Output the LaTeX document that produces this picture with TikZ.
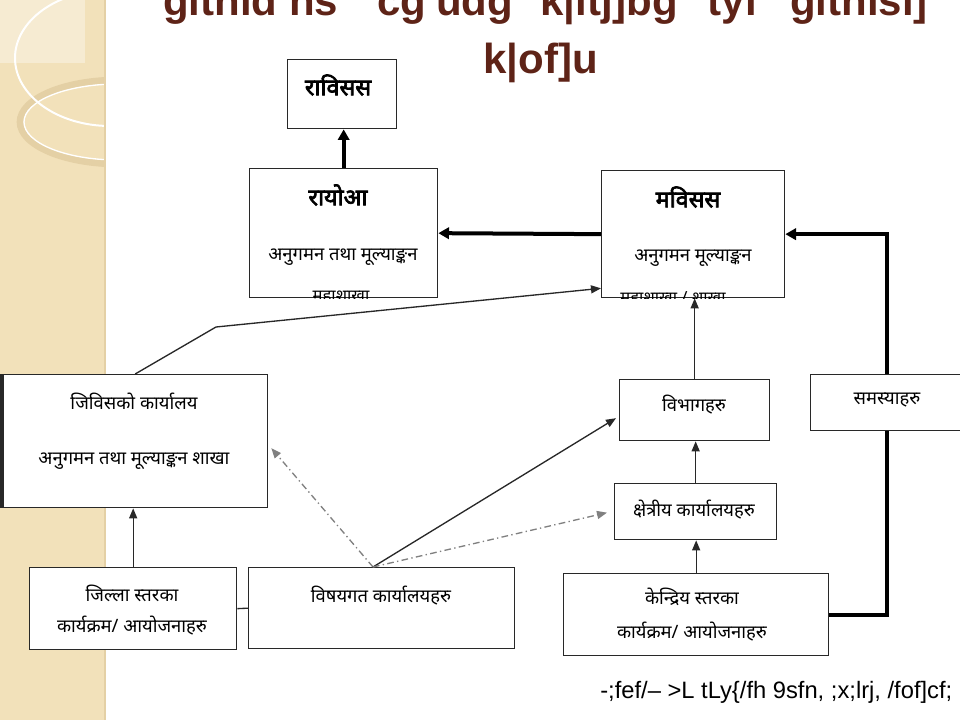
\documentclass[tikz,border=0pt]{standalone}
\usepackage{fontspec}
\newfontfamily\nep{Noto Sans}[Script=Devanagari]
\newfontfamily\nepbold{Noto Sans}[Script=Devanagari, FakeBold=3]
\newfontfamily\latin{Liberation Sans}
\usetikzlibrary{positioning,calc,arrows.meta}
\definecolor{titlebrown}{RGB}{94,35,23}
\definecolor{stripbeige}{RGB}{242,225,186}
\definecolor{stripring}{RGB}{228,208,165}
\definecolor{linegray}{RGB}{40,40,40}

\begin{document}
\begin{tikzpicture}[x=0.75pt, y=-0.75pt,
		box/.style 2 args = {
			draw=linegray, fill=white, rectangle,
			line width=1pt, inner sep=0pt, anchor=north west,
			minimum width=#1*0.75pt, minimum height=#2*0.75pt
		},
		lbl/.style = {font=\nep\fontsize{13.8}{16}\selectfont, inner sep=0pt},
		small/.style = {font=\nep\fontsize{12.5}{14}\selectfont, inner sep=0pt, anchor=north},
		hd/.style = {font=\nepbold\fontsize{17.5}{20}\selectfont, inner sep=0pt},
		ttl/.style = {font=\latin\bfseries\fontsize{31.5}{36}\selectfont, text=titlebrown, inner sep=0pt, anchor=base west},
		flow/.style = {draw=linegray, line width=1pt, -{Triangle[length=7.5pt,width=6pt]}},
		bigflow/.style = {draw=black, line width=3pt, -{Triangle[length=8pt,width=8.5pt]}},
		dashflow/.style = {flow, draw=gray, dash pattern=on 5pt off 2.5pt on 1pt off 2.5pt}
	]
	\useasboundingbox (0,0) rectangle (960,720);

	% left strip
	\begin{scope}
		\clip (0,0) rectangle (105,720);
		\fill[stripbeige] (0,0) rectangle (105,720);
		\fill[white, opacity=0.35] (0,0) rectangle (85,63);
		\draw[stripring, line width=5pt] (118,122) ellipse (98 and 42);
		\draw[white, line width=1pt] (118,122) ellipse (94 and 38);
		\draw[white, line width=1.5pt] (110,58) ellipse (95 and 68);
	\end{scope}
	\draw[stripring, line width=1.5pt] (105,0) -- (105,720);

	% title
	\node[ttl] (t1) at (163,16) {gltnid ns};
	\node[ttl] (t2) at (377,16) {cg'udg};
	\node[ttl] (t3) at (540,16) {k|ltj]bg};
	\node[ttl] (t4) at (707,16) {tyf};
	\node[ttl] (t5) at (790,16) {gltnisl]};
	\node[ttl] (t6) at (483,74) {k|of]u};

	% boxes
	\node[box={109}{69}] (rvss) at (287,59) {};
	\node[box={188}{129}] (ryoa) at (249,168) {};
	\node[box={183}{127}] (mvss) at (601,170) {};
	\node[box={265}{133}] (jvs) at (2,374) {};
	\draw[linegray, line width=2.5pt] (jvs.north west) -- (jvs.south west);
	\node[box={207}{82}] (jilla) at (29,567) {};
	\node[box={266}{81}] (vishay) at (248,567) {};
	\node[box={150}{61}] (vibhag) at (619,379) {};
	\node[box={162}{56}] (kshetra) at (614,483) {};
	\node[box={265}{82}] (kendra) at (563,573) {};

	% connectors
	\coordinate (hub) at (373,567);
	\coordinate (knee) at (216,327);
	\draw[bigflow] (ryoa.north) -- (ryoa.north |- rvss.south);
	\draw[bigflow] (mvss.west) -- (ryoa.east);
	\draw[bigflow] (kendra.east) -- ++(58,0) |- (mvss.east);
	\draw[flow] (jvs.north) -- (knee) -- ($(mvss.south west)+(0,-10)$);
	\draw[flow] (vibhag.north) -- (vibhag.north |- mvss.south);
	\draw[flow] (kshetra.north) -- (kshetra.north |- vibhag.south);
	\draw[flow] (kendra.north) -- (kendra.north |- kshetra.south);
	\draw[flow] (jilla.north) -- (jilla.north |- jvs.south);
	\draw[linegray, line width=1pt] (jilla.east) -- (vishay.west);
	\draw[dashflow] (hub) -- ($(jvs.east)+(3,7)$);
	\draw[flow] (hub) -- ($(vibhag.west)+(-3,8)$);
	\draw[dashflow] (hub) -- ($(kshetra.west)+(-7,1)$);

	\node[box={155}{56}] (samasya) at (810,374) {};

	% labels
	\node[hd] (rvssT) at (338,85) {राविसस};
	\node[hd] (ryoaT) at (338,195) {रायोआ};
	\node[lbl] (ryoaM) at (343,257) {अनुगमन तथा मूल्याङ्कन};
	\node[hd] (mvssT) at (688,197) {मविसस};
	\node[lbl] (mvssM) at (693,258) {अनुगमन मूल्याङ्कन};
	\begin{scope}
		\clip (ryoa.north west) rectangle (ryoa.south east);
		\node[small] (ryoaB) at (341,291) {महाशाखा};
	\end{scope}
	\begin{scope}
		\clip (mvss.north west) rectangle (mvss.south east);
		\node[small] (mvssB) at (673,291) {महाशाखा / शाखा};
	\end{scope}
	\node[lbl] (jvsT) at (134,401) {जिविसको कार्यालय};
	\node[lbl] (jvsM) at (134,461) {अनुगमन तथा मूल्याङ्कन शाखा};
	\node[lbl] (jillaT) at (132,593) {जिल्ला स्तरका};
	\node[lbl] (jillaM) at (132,626) {कार्यक्रम/ आयोजनाहरु};
	\node[lbl] (vishayT) at (381,596) {विषयगत कार्यालयहरु};
	\node[lbl] (vibhagT) at (694,405) {विभागहरु};
	\node[lbl] (samasyaT) at (887,400) {समस्याहरु};
	\node[lbl] (kshetraT) at (694,510) {क्षेत्रीय कार्यालयहरु};
	\node[lbl] (kendraT) at (692,597) {केन्द्रिय स्तरका};
	\node[lbl] (kendraM) at (692,632) {कार्यक्रम/ आयोजनाहरु};

	% source line
	\node[font=\latin\fontsize{17.8}{20}\selectfont, inner sep=0pt, anchor=base west] (src) at (600,698) {-;fef/– >L tLy\{/fh 9sfn, ;x;lrj, /fof]cf;};
\end{tikzpicture}
\end{document}
